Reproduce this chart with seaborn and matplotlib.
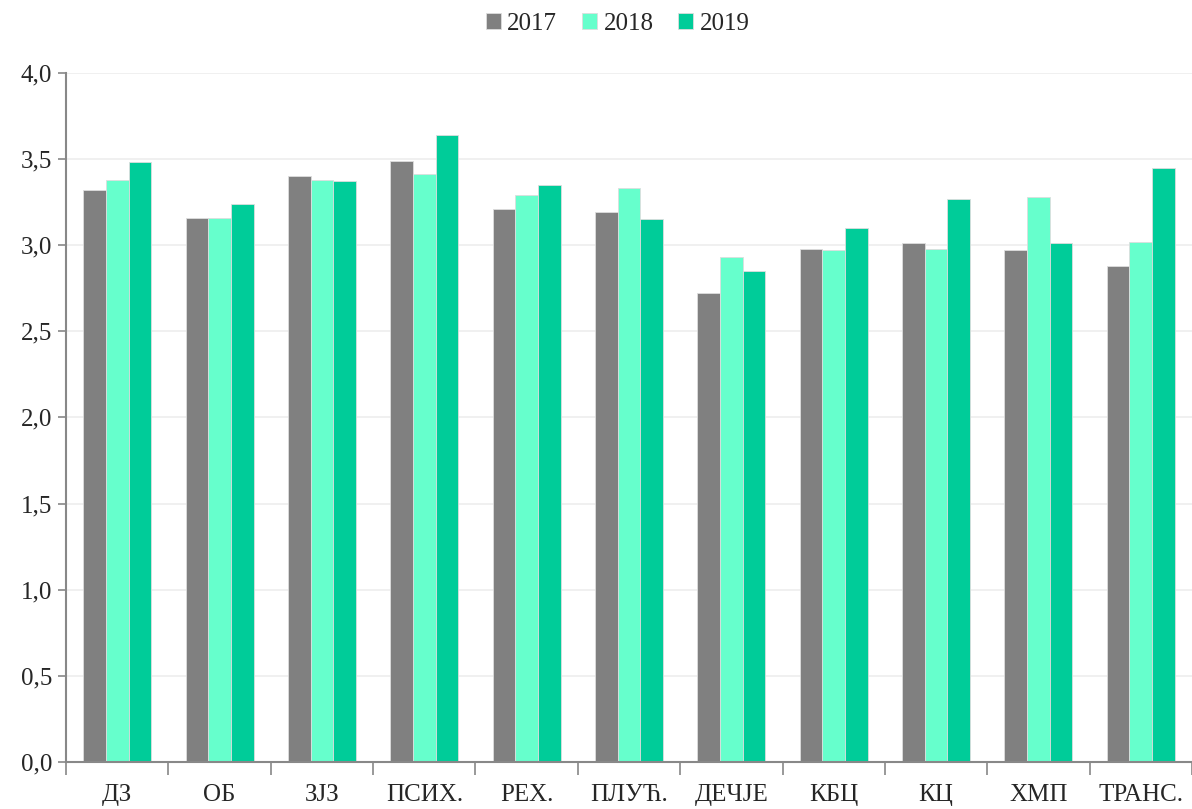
import numpy as np
import pandas as pd
import matplotlib
matplotlib.use("Agg")
import matplotlib.pyplot as plt
from matplotlib.ticker import FuncFormatter
import seaborn as sns

categories = ["ДЗ", "ОБ", "ЗЈЗ", "ПСИХ.", "РЕХ.", "ПЛУЋ.", "ДЕЧЈЕ", "КБЦ", "КЦ", "ХМП", "ТРАНС."]
years = ["2017", "2018", "2019"]
v2017 = [3.32, 3.16, 3.40, 3.49, 3.21, 3.19, 2.72, 2.98, 3.01, 2.97, 2.88]
v2018 = [3.38, 3.16, 3.38, 3.41, 3.29, 3.33, 2.93, 2.97, 2.98, 3.28, 3.02]
v2019 = [3.48, 3.24, 3.37, 3.64, 3.35, 3.15, 2.85, 3.10, 3.27, 3.01, 3.45]
colors = ["#808080", "#66FFCC", "#00CC99"]

df = pd.DataFrame({
    "cat": categories * 3,
    "year": [y for y in years for _ in categories],
    "value": v2017 + v2018 + v2019,
})

sns.set_style("white")
plt.rcParams["font.family"] = ["Liberation Serif", "DejaVu Serif"]

fig = plt.figure(figsize=(11.92, 8.09), dpi=100)
ax = fig.add_axes([0.0554, 0.058, 0.9446, 0.852])

sns.barplot(data=df, x="cat", y="value", hue="year", palette=colors, saturation=1,
            width=0.665, edgecolor="#dddddd", linewidth=0.6, ax=ax, legend=True)

ax.set_ylim(0, 4.0)
ax.set_xlim(-0.5, len(categories) - 0.5)
ax.set_yticks(np.arange(0, 4.01, 0.5))
ax.yaxis.set_major_formatter(FuncFormatter(lambda v, p: f"{v:.1f}".replace(".", ",")))
ax.set_xticks(np.arange(-0.5, len(categories)), minor=True)
ax.tick_params(axis="x", which="major", bottom=False, length=0, pad=16, labelsize=18)
ax.tick_params(axis="x", which="minor", bottom=True, length=9, width=1.2,
               color="#888888", direction="out")
ax.tick_params(axis="y", left=True, length=6, width=1.2, color="#888888",
               direction="out", labelsize=18, pad=4)
ax.grid(axis="y", color="#eeeeee", linewidth=1.2)
ax.set_axisbelow(True)
for s in ["top", "right"]:
    ax.spines[s].set_visible(False)
for s in ["left", "bottom"]:
    ax.spines[s].set_color("#888888")
    ax.spines[s].set_linewidth(1.5)
ax.set_xlabel("")
ax.set_ylabel("")

ax.legend(loc="upper center", bbox_to_anchor=(0.49, 1.12), ncol=3, frameon=False,
          fontsize=18, handlelength=0.6, handleheight=0.6, handletextpad=0.25,
          columnspacing=1.0)

fig.savefig("out.png", dpi=100)
